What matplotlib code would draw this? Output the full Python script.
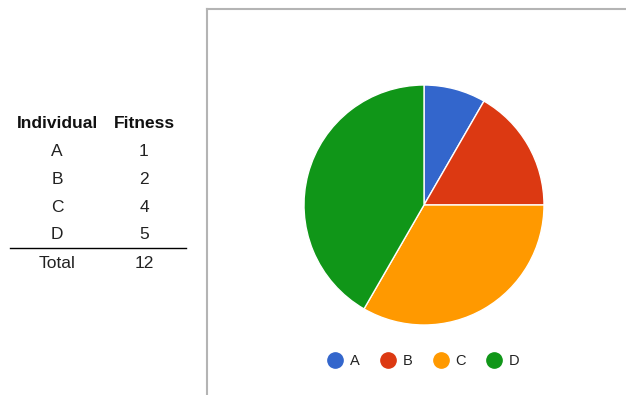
import matplotlib.pyplot as plt
from matplotlib.lines import Line2D

individuals = ["A", "B", "C", "D"]
fitness = [1, 2, 4, 5]
colors = ["#3366cc", "#dc3912", "#ff9900", "#109618"]

W, H = 626, 395
plt.rcParams["font.family"] = ["Liberation Sans", "DejaVu Sans"]

fig = plt.figure(figsize=(W / 100, H / 100), dpi=100)


def fx(px):
    return px / W


def fy(py):
    return 1 - py / H


# chart frame (left and top edges)
fig.add_artist(Line2D([fx(207), fx(207)], [fy(9), 0], color="#b4b4b4", lw=1.5))
fig.add_artist(Line2D([fx(207), 1], [fy(9), fy(9)], color="#b4b4b4", lw=1.5))

# pie
cx, cy, r = 424, 205, 120
ax = fig.add_axes([fx(cx - r), fy(cy + r), 2 * r / W, 2 * r / H])
ax.pie(fitness, colors=colors, startangle=90, counterclock=False,
       wedgeprops=dict(edgecolor="white", linewidth=1))
ax.set_xlim(-1, 1)
ax.set_ylim(-1, 1)
ax.set_aspect("auto")
ax.axis("off")

# legend
handles = [Line2D([], [], marker="o", ls="", markersize=11, color=c) for c in colors]
fig.legend(handles, individuals, loc="center", bbox_to_anchor=(fx(420), fy(361)),
           ncol=4, frameon=False, fontsize=10.5, handletextpad=0.0,
           columnspacing=0.95, labelcolor="#222222")

# table
col_x = [57, 144]
fs = 12.5
fig.text(fx(col_x[0]), fy(123), "Individual", ha="center", va="center",
         fontsize=fs, fontweight="bold", color="#111111")
fig.text(fx(col_x[1]), fy(123), "Fitness", ha="center", va="center",
         fontsize=fs, fontweight="bold", color="#111111")
for i, (name, f) in enumerate(zip(individuals, fitness)):
    y = 151 + 28 * i
    fig.text(fx(col_x[0]), fy(y), name, ha="center", va="center", fontsize=fs, color="#222222")
    fig.text(fx(col_x[1]), fy(y), str(f), ha="center", va="center", fontsize=fs, color="#222222")
fig.add_artist(Line2D([fx(10), fx(186)], [fy(248), fy(248)], color="black", lw=1))
fig.text(fx(col_x[0]), fy(264), "Total", ha="center", va="center", fontsize=fs, color="#222222")
fig.text(fx(col_x[1]), fy(264), str(sum(fitness)), ha="center", va="center", fontsize=fs, color="#222222")

fig.savefig("out.png", dpi=100)
